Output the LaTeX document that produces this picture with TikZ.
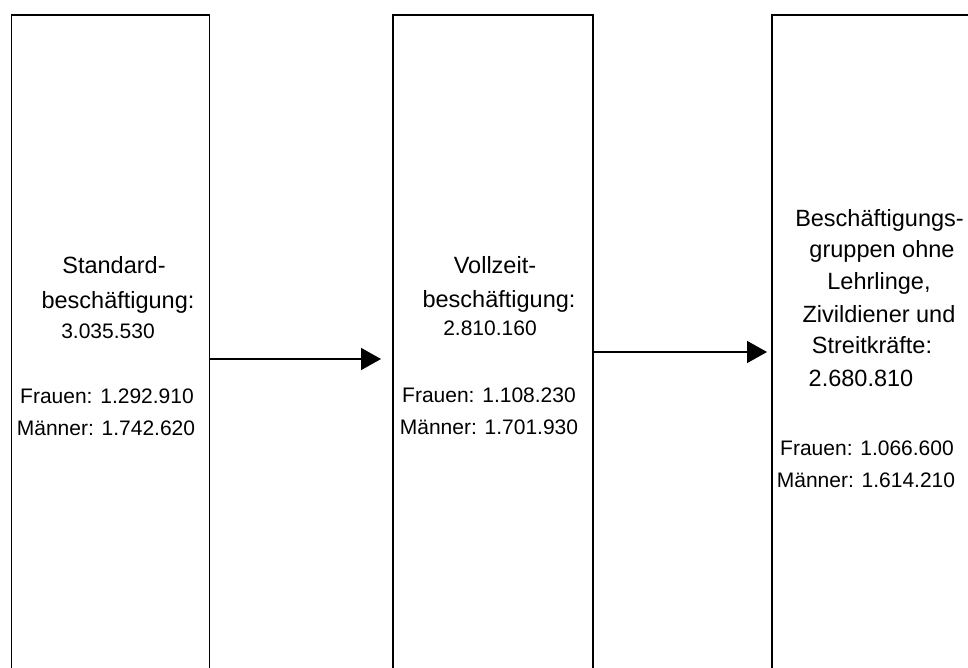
\documentclass[tikz,border=0pt]{standalone}
\usepackage{fontspec}
\setmainfont{Liberation Sans}
\usetikzlibrary{arrows.meta}
\tikzset{
  box/.style={draw=black, line width=1.6pt, rectangle, inner sep=0pt},
  ttl/.style={anchor=base, inner sep=0pt, font=\fontsize{23.5}{28}\selectfont},
  bdy/.style={anchor=base, inner sep=0pt, font=\fontsize{21}{25}\selectfont},
  arr/.style={line width=1.6pt, -{Triangle[length=20pt,width=22pt]}}
}
\begin{document}
\begin{tikzpicture}[x=1pt,y=-1pt]
\useasboundingbox (0,0) rectangle (968,668);
% boxes
\node[box, minimum width=198pt, minimum height=665pt] (b1) at (110.5,347.5) {};
\node[box, minimum width=200pt, minimum height=665pt] (b2) at (493,347.5) {};
\node[box, minimum width=200pt, minimum height=665pt] (b3) at (872,347.5) {};
% box 1 text
\node[ttl] (t11) at (114,273) {Standard-};
\node[ttl] (t12) at (118,308) {beschäftigung:};
\node[bdy] (t13) at (108,338) {3.035.530};
\node[bdy] (t14) at (107,403) {Frauen: 1.292.910};
\node[bdy] (t15) at (106,435) {Männer: 1.742.620};
% box 2 text
\node[ttl] (t21) at (495,273) {Vollzeit-};
\node[ttl] (t22) at (499,307) {beschäftigung:};
\node[bdy] (t23) at (490,335) {2.810.160};
\node[bdy] (t24) at (489,402) {Frauen: 1.108.230};
\node[bdy] (t25) at (489,434) {Männer: 1.701.930};
% box 3 text
\node[ttl] (t31) at (879.5,227) {Beschäftigungs-};
\node[ttl] (t32) at (882,257) {gruppen ohne};
\node[ttl] (t33) at (879,289) {Lehrlinge,};
\node[ttl] (t34) at (879,322) {Zivildiener und};
\node[ttl] (t35) at (872,353) {Streitkräfte:};
\node[ttl] (t36) at (861,386) {2.680.810};
\node[bdy] (t37) at (867,455) {Frauen: 1.066.600};
\node[bdy] (t38) at (866,487) {Männer: 1.614.210};
% arrows
\coordinate (y1) at (0,359);
\coordinate (y2) at (0,352);
\coordinate (e1) at (381,359);
\coordinate (e2) at (767,352);
\draw[arr] (b1.east |- y1) -- (e1);
\draw[arr] (b2.east |- y2) -- (e2);
\end{tikzpicture}
\end{document}
